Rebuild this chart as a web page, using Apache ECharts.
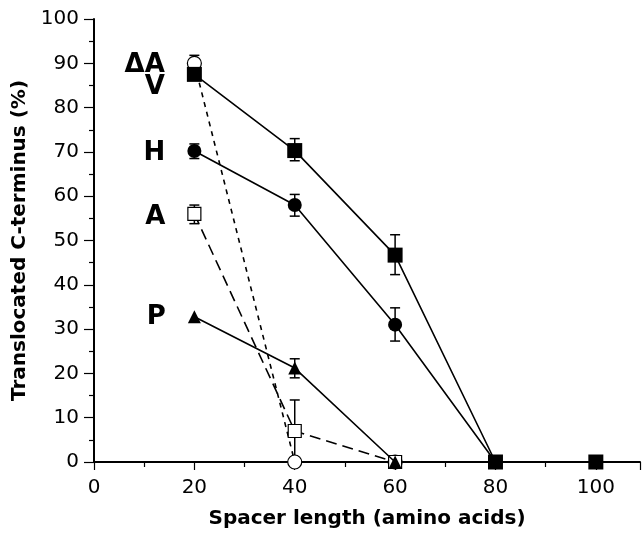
<!DOCTYPE html>
<html><head><meta charset="utf-8">
<script src="https://cdn.jsdelivr.net/npm/echarts@6/dist/echarts.min.js"></script>
<style>html,body{margin:0;padding:0;background:#fff}#c{width:643px;height:534px}</style>
</head><body><div id="c"></div>
<script>
const spacer = [20, 40, 60, 80, 100];
const xTicks = [0, 20, 40, 60, 80, 100];
const yTicks = [0, 10, 20, 30, 40, 50, 60, 70, 80, 90, 100];

const vVals  = [87.5, 70.3, 46.7, 0, 0];
const hVals  = [70.2, 58.0, 31.0, 0];
const aVals  = [56.0, 7.0, 0];
const pVals  = [32.8, 21.2, 0];
const daVals = [90.0, 0, 0];

// error bars: [x, low, high]
const vErr  = [[40, 68.0, 73.0], [60, 42.3, 51.3]];
const hErr  = [[20, 68.5, 71.8], [40, 55.5, 60.4], [60, 27.3, 34.8]];
const aErr  = [[20, 53.8, 58.0], [40, 0, 14.0]];
const pErr  = [[40, 19.0, 23.3]];
const daErr = [[20, 88.0, 91.8]];

const FONT = '"DejaVu Sans", Verdana, sans-serif';

function pts(vals, name, labelOffset) {
  return vals.map((v, i) => {
    const item = { value: [spacer[i], v] };
    if (i === 0) {
      item.label = {
        show: true, formatter: name, position: 'left', distance: 22,
        offset: labelOffset, fontFamily: FONT, fontWeight: 'bold',
        fontSize: 26, color: '#000'
      };
    }
    return item;
  });
}

function lineSeries(vals, name, symbol, filled, lineType, size, labelOffset, z) {
  return {
    type: 'line', name: name, data: pts(vals, name, labelOffset),
    symbol: symbol, symbolSize: size, showSymbol: true,
    lineStyle: { color: '#000', width: 1.6, type: lineType },
    itemStyle: { color: filled ? '#000' : '#fff', borderColor: '#000', borderWidth: filled ? 0 : 1.2 },
    z: z, animation: false
  };
}

function errSeries(data) {
  return {
    type: 'custom', data: data, z: 1, animation: false,
    renderItem: function (params, api) {
      const x = api.value(0);
      const lo = api.coord([x, api.value(1)]);
      const hi = api.coord([x, api.value(2)]);
      const hw = 5;
      const st = { stroke: '#000', lineWidth: 1.5 };
      return { type: 'group', children: [
        { type: 'line', shape: { x1: lo[0], y1: lo[1], x2: hi[0], y2: hi[1] }, style: st },
        { type: 'line', shape: { x1: hi[0] - hw, y1: hi[1], x2: hi[0] + hw, y2: hi[1] }, style: st },
        { type: 'line', shape: { x1: lo[0] - hw, y1: lo[1], x2: lo[0] + hw, y2: lo[1] }, style: st }
      ]};
    }
  };
}

const chart = echarts.init(document.getElementById('c'), null, { renderer: 'canvas' });
chart.setOption({
  backgroundColor: '#fff',
  animation: false,
  grid: { left: 94, right: 0, top: 19, bottom: 70, containLabel: false },
  xAxis: {
    type: 'value', min: 0, max: 108.8, interval: 20,
    name: 'Spacer length (amino acids)', nameLocation: 'middle', nameGap: 47,
    nameTextStyle: { fontFamily: FONT, fontWeight: 'bold', fontSize: 20, color: '#000' },
    axisLine: { show: true, onZero: false, lineStyle: { color: '#000', width: 2 } },
    axisTick: { show: true, inside: false, length: 8, lineStyle: { color: '#000', width: 1.2 } },
    minorTick: { show: true, splitNumber: 2, length: 5, lineStyle: { color: '#000', width: 1.2 } },
    axisLabel: { fontFamily: FONT, fontSize: 20, color: '#000', margin: 16,
      formatter: v => xTicks.indexOf(v) >= 0 ? String(v) : '' },
    splitLine: { show: false }
  },
  yAxis: {
    type: 'value', min: 0, max: 100, interval: 10,
    name: 'Translocated C-terminus (%)', nameLocation: 'middle', nameGap: 58,
    nameTextStyle: { fontFamily: FONT, fontWeight: 'bold', fontSize: 20, color: '#000' },
    axisLine: { show: true, lineStyle: { color: '#000', width: 2 } },
    axisTick: { show: true, inside: false, length: 10, lineStyle: { color: '#000', width: 1.2 } },
    minorTick: { show: true, splitNumber: 2, length: 5, lineStyle: { color: '#000', width: 1.2 } },
    axisLabel: { fontFamily: FONT, fontSize: 20, color: '#000', margin: 15,
      formatter: v => yTicks.indexOf(v) >= 0 ? String(v) : '' },
    splitLine: { show: false }
  },
  series: [
    errSeries(vErr), errSeries(hErr), errSeries(aErr), errSeries(pErr), errSeries(daErr),
    lineSeries(daVals, 'ΔA', 'circle', false, [5, 5], 14, [0, 2], 2),
    lineSeries(aVals, 'A', 'rect', false, [11, 6], 13, [0, 3], 3),
    lineSeries(pVals, 'P', 'triangle', true, 'solid', 13, [0, 1], 4),
    lineSeries(hVals, 'H', 'circle', true, 'solid', 14, [0, 2], 5),
    lineSeries(vVals, 'V', 'rect', true, 'solid', 15, [0, 13], 6)
  ]
});
</script></body></html>
